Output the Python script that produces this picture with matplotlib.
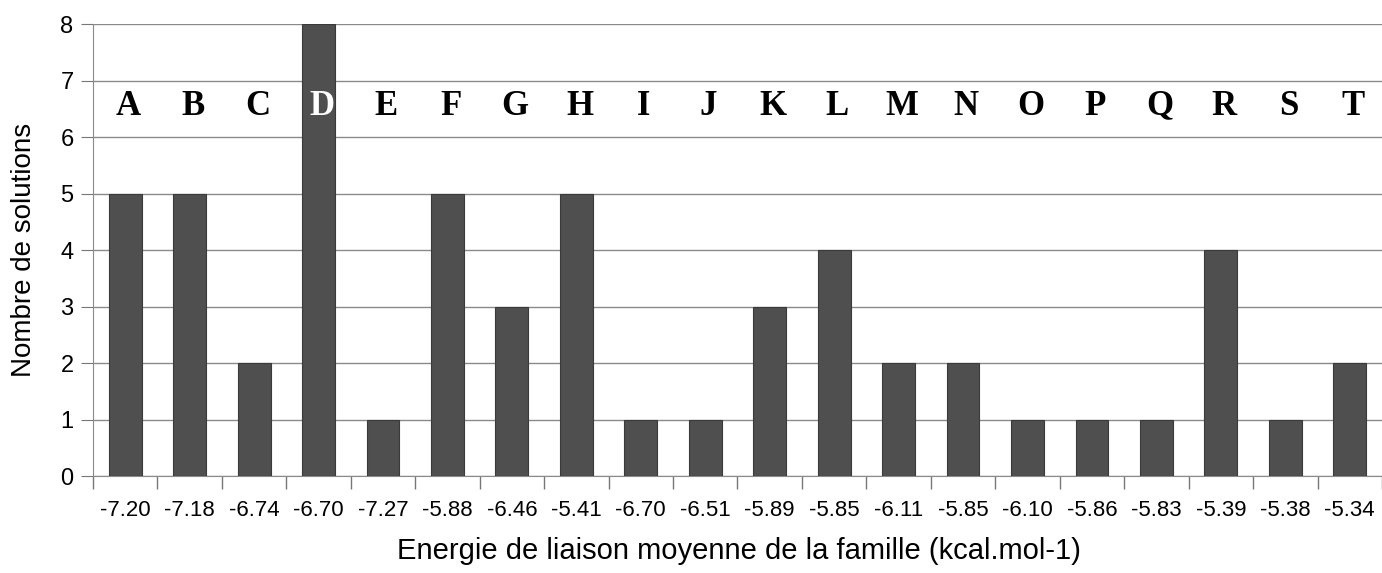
import matplotlib.pyplot as plt
import numpy as np

familles = list("ABCDEFGHIJKLMNOPQRST")
energies = ["-7.20", "-7.18", "-6.74", "-6.70", "-7.27", "-5.88", "-6.46", "-5.41",
            "-6.70", "-6.51", "-5.89", "-5.85", "-6.11", "-5.85", "-6.10", "-5.86",
            "-5.83", "-5.39", "-5.38", "-5.34"]
nb_solutions = [5, 5, 2, 8, 1, 5, 3, 5, 1, 1, 3, 4, 2, 2, 1, 1, 1, 4, 1, 2]

plt.rcParams['font.family'] = ['Liberation Sans', 'DejaVu Sans']

fig = plt.figure(figsize=(13.82, 5.73), dpi=100)
ax = fig.add_axes([0.0673, 0.169, 0.935, 0.789])

x = np.arange(len(familles))
ax.bar(x, nb_solutions, width=0.51, color='#4f4f4f', edgecolor='#3a3a3a',
       linewidth=0.8, zorder=3)

# lettres des familles au-dessus des barres
for i, lettre in enumerate(familles):
    couleur = 'white' if nb_solutions[i] >= 7 else 'black'
    ax.text(x[i] + 0.05, 6.55, lettre, ha='center', va='center', fontsize=25,
            fontweight='bold', family='Liberation Serif', color=couleur, zorder=4)

ax.set_xlim(-0.5, len(familles) - 0.45)
ax.set_ylim(0, 8)
ax.set_yticks(range(9))
ax.set_xticks(x)
ax.set_xticklabels(energies)
ax.set_xticks(np.arange(-0.5, len(familles), 1), minor=True)
ax.tick_params(axis='x', which='major', length=0, pad=17, labelsize=16)
ax.tick_params(axis='x', which='minor', length=9, color='#777777', width=1)
ax.tick_params(axis='y', length=9, color='#777777', labelsize=17, pad=5)

ax.grid(axis='y', color='#8a8a8a', linewidth=1, zorder=0)
for s in ['top', 'right']:
    ax.spines[s].set_visible(False)
for s in ['left', 'bottom']:
    ax.spines[s].set_color('#8a8a8a')

ax.set_ylabel('Nombre de solutions', fontsize=20, labelpad=17)
ax.set_xlabel('Energie de liaison moyenne de la famille (kcal.mol-1)', fontsize=21, labelpad=12)

fig.savefig('out.png', dpi=100)
